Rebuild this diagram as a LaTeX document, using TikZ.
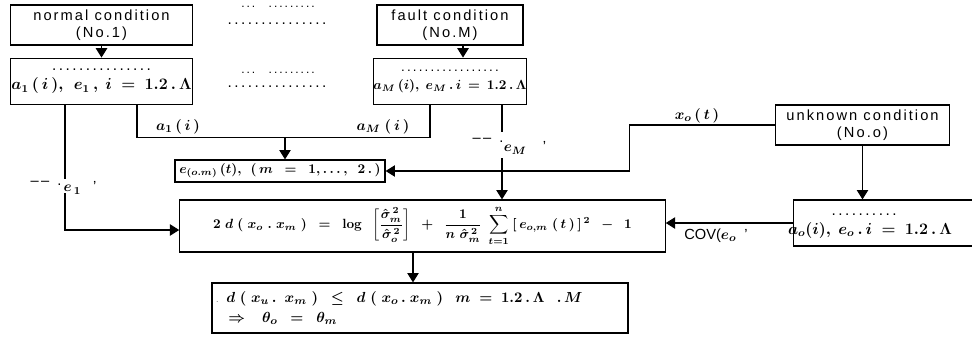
\documentclass[tikz,border=0pt]{standalone}
\usepackage{amsmath}
\usepackage{fontspec}
\setmainfont{Liberation Sans}
\usetikzlibrary{arrows.meta,calc}
\newcommand{\dotrule}[1]{\makebox[#1]{\dotfill}}
\begin{document}
\begin{tikzpicture}[x=0.75pt,y=-0.75pt,
  box/.style={draw,line width=0.9pt,inner sep=0pt,align=center},
  conn/.style={line width=0.9pt},
  arr/.style={conn,-{Triangle[length=7pt,width=8.5pt]}},
  ttl/.style={font=\fontsize{11}{12.5}\selectfont\addfontfeatures{LetterSpace=14}},
  frm/.style={font=\fontsize{11.5}{14}\selectfont\boldmath},
  frms/.style={font=\fontsize{10}{14}\selectfont\boldmath},
  lbl/.style={font=\fontsize{11}{13}\selectfont\boldmath,inner sep=1pt},
  dots/.style={font=\fontsize{9}{10}\selectfont,inner sep=0pt}
]
\useasboundingbox (0,0) rectangle (972,337);

% boxes
\node[box,minimum width=137pt,minimum height=30pt,ttl] (b1) at (101.5,25) {normal condition\\(No.1)};
\node[box,minimum width=137pt,minimum height=35pt,frm] (b2) at (101.5,81.5) {\dotrule{78pt}\\[0pt]$a_{1}\,(\,i\,),\ \,e_{1}\,,\ i\ =\ 1.2\,.\,\Lambda$};
\node[box,minimum width=109.5pt,minimum height=30pt,ttl] (b3) at (450,25) {fault condition\\(No.M)};
\node[box,minimum width=109.5pt,minimum height=35pt,frms] (b4) at (450,81.5) {\dotrule{78pt}\\[0pt]$a_{M}\,(i),\ e_{M}\,.\,i\,=\,1.2\,.\,\Lambda$};
\node[box,minimum width=131pt,minimum height=30pt,ttl] (b5) at (862.5,125) {unknown condition\\(No.o)};
\node[box,minimum width=142pt,minimum height=34.5pt] (b6) at (888,223) {};
\node[frm,inner sep=0pt] at (864,215) {\dotrule{54pt}};
\node[frm,inner sep=0pt] (t6) at (870,230) {$a_{o}(i),\ e_{o}\,.\,i\ =\ 1.2\,.\,\Lambda$};
\node[box,minimum width=157.5pt,minimum height=16.5pt,font=\fontsize{10.2}{12}\selectfont\boldmath] (be) at (280,171) {$e_{(o.m)}\,(t),\ \,(\,m\ \ =\ \ 1,\dots,\ \ 2\,.\,)$};
\node[box,minimum width=364pt,minimum height=39pt,font=\fontsize{10.2}{12}\selectfont\boldmath] (big) at (422.5,226)
 {$2\;d\;(\;x_{o}\;.\;x_{m}\;)\ \ =\ \ \mathbf{log}\ \ \left[\dfrac{\hat\sigma_{m}^{\,2}}{\hat\sigma_{o}^{\,2}}\right]\ \ +\ \ \dfrac{1}{n\;\hat\sigma_{m}^{\,2}}\;\displaystyle\sum_{t=1}^{n}\ [\,e_{o,m}\;(\,t\,)\,]^{\,2}\ \ -\ \ 1$};
\node[box,minimum width=312pt,minimum height=37.5pt] (bot) at (420,308) {};
\node[anchor=west,align=left,inner sep=0pt,font=\fontsize{11}{14}\selectfont\boldmath] (tb) at (216,308)
 {{\tiny.}\ \ $d\;(\;x_{u}\,.\ \ x_{m}\;)\ \ \le\ \ d\;(\;x_{o}\,.\ x_{m}\;)\ \ \ m\ =\ 1.2\,.\,\Lambda\ \ \ .\,M$\\[1pt]
  \ \ \ $\Rightarrow\ \ \ \theta_{o}\ \ =\ \ \theta_{m}$};

% middle column of lost text
\node[dots] at (278,7) {.\,.\,.\ \ \ \ .\,.\,.\,.\,.\,.\,.\,.\,.};
\node[frm,inner sep=0pt] at (277,24) {\dotrule{80pt}};
\node[dots] at (278,73) {.\,.\,.\ \ \ \ .\,.\,.\,.\,.\,.\,.\,.\,.};
\node[frm,inner sep=0pt] at (277,87) {\dotrule{80pt}};

% connectors
\draw[arr] (b1.south) -- (b2.north);
\draw[arr] ($(b3.south)+(13,0)$) -- ($(b4.north)+(13,0)$);
\draw[arr] (b5.south) -- (b5.south |- b6.north);

\coordinate (J) at ($(be.north)+(5,-22)$);
\draw[conn] ($(b2.south)+(35.5,0)$) |- (J);
\draw[conn] ($(b4.south)+(-20,0)$) |- (J);
\draw[arr] (J) -- (J |- be.north);
\node[lbl] at (178,127) {$a_{1}\,(\,i\,)$};
\node[lbl] at (383,127) {$a_{M}\ (\,i\,)$};

\draw[arr] ($(b2.south)+(-36.5,0)$) |- ($(big.west)+(0,4)$);
\node[lbl,fill=white,inner sep=3pt] at (66,186) {\phantom{$e$}};
\node[lbl] at (46,183) {--\,--\ \ .};
\node[lbl] at (80,188) {$e_{\,1}$\ \ \ '};

\draw[arr] ($(b4.south)+(52,0)$) -- ($(big.north)+(79.5,0)$);
\node[lbl,fill=white,inner sep=2pt,minimum height=20pt] at (502,145) {};
\node[lbl] at (488,140) {--\,--\ \ .};
\node[lbl] at (525,148) {$e_{M}$\ \ \ \ '};

\draw[arr] (b5.west) -- ++(-145,0) |- (be.east);
\node[lbl] at (697,116) {$x_{o}\,(\,t\,)$};

\draw[arr] (b6.west) -- (b6.west -| big.east);
\node[lbl] at (716,236) {COV($e_{o}$\ \ '};

\draw[arr] ($(big.south)+(-9.5,0)$) -- ($(bot.north)+(-7,0)$);
\end{tikzpicture}
\end{document}
